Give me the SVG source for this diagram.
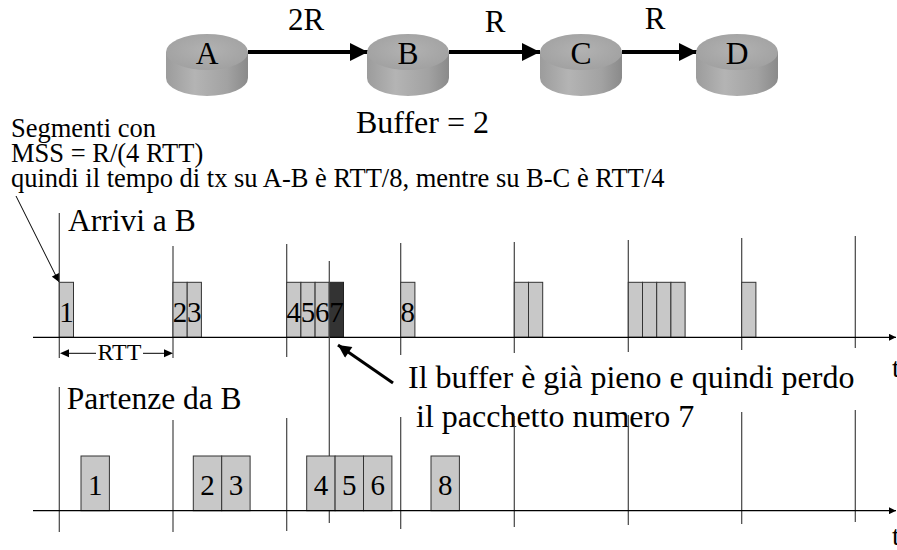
<svg xmlns="http://www.w3.org/2000/svg" xmlns:xlink="http://www.w3.org/1999/xlink" width="897" height="550" viewBox="0 0 897 550" font-family="'Liberation Serif', 'DejaVu Serif', serif">
<style>
text{font-family:'Liberation Serif','DejaVu Serif',serif;fill:#000}
.big{font-size:31.5px}
.lbl{font-size:31px}
.sm{font-size:26.5px}
.num{font-size:29px;text-anchor:middle}
.vl{stroke:#444;stroke-width:1.2}
.ax{stroke:#000;stroke-width:1.3}
.pk{fill:#c8c8c8;stroke:#333;stroke-width:1}
.pkd{fill:#333;stroke:#222;stroke-width:1}
.lnk{stroke:#000;stroke-width:4}
</style>
<defs>
<linearGradient id="side" x1="0" y1="0" x2="1" y2="0">
<stop offset="0" stop-color="#9c9c9c"/>
<stop offset="0.35" stop-color="#b4b4b4"/>
<stop offset="0.75" stop-color="#a2a2a2"/>
<stop offset="1" stop-color="#8a8a8a"/>
</linearGradient>
<radialGradient id="top" cx="0.5" cy="0.45" r="0.6">
<stop offset="0" stop-color="#b2b2b2"/>
<stop offset="1" stop-color="#a0a0a0"/>
</radialGradient>
<g id="cyl">
<path d="M-41,52 V78 A41,18 0 0 0 41,78 V52 Z" fill="url(#side)"/>
<ellipse cx="0" cy="52" rx="41" ry="18" fill="url(#top)"/>
</g>
<marker id="ah" viewBox="0 0 10 10" refX="10" refY="5" markerWidth="4.5" markerHeight="4.5" orient="auto" markerUnits="strokeWidth">
<path d="M0,0 L10,5 L0,10 Z" fill="#000"/>
</marker>
<marker id="axh" viewBox="0 0 10 10" refX="10" refY="5" markerWidth="9" markerHeight="7" orient="auto" markerUnits="userSpaceOnUse">
<path d="M0,0 L10,5 L0,10 Z" fill="#000"/>
</marker>
<marker id="sh" viewBox="0 0 10 10" refX="10" refY="5" markerWidth="9" markerHeight="8" orient="auto" markerUnits="userSpaceOnUse">
<path d="M0,0 L10,5 L0,10 Z" fill="#000"/>
</marker>
<marker id="th" viewBox="0 0 10 10" refX="10" refY="5" markerWidth="16" markerHeight="13" orient="auto" markerUnits="userSpaceOnUse">
<path d="M0,0 L10,5 L0,10 Z" fill="#000"/>
</marker>
</defs>

<g id="connectors">
<line class="lnk" x1="248" y1="52" x2="368" y2="52" marker-end="url(#ah)"/>
<line class="lnk" x1="449" y1="52" x2="540" y2="52" marker-end="url(#ah)"/>
<line class="lnk" x1="622" y1="52" x2="697" y2="52" marker-end="url(#ah)"/>
</g>

<g id="node-A"><use xlink:href="#cyl" x="207"/><text class="big" x="207" y="64" text-anchor="middle">A</text></g>
<g id="node-B"><use xlink:href="#cyl" x="408"/><text class="big" x="408" y="64" text-anchor="middle">B</text></g>
<g id="node-C"><use xlink:href="#cyl" x="581"/><text class="big" x="581" y="64" text-anchor="middle">C</text></g>
<g id="node-D"><use xlink:href="#cyl" x="737"/><text class="big" x="737" y="64" text-anchor="middle">D</text></g>

<g id="link-labels">
<text class="lbl" x="306" y="30" text-anchor="middle">2R</text>
<text class="lbl" x="495" y="32" text-anchor="middle">R</text>
<text class="lbl" x="655" y="29" text-anchor="middle">R</text>
<text class="lbl" x="356" y="133" style="font-size:32px">Buffer = 2</text>
</g>

<g id="notes">
<text class="sm" x="11" y="137">Segmenti con</text>
<text class="sm" x="11" y="162">MSS = R/(4 RTT)</text>
<text class="sm" x="11" y="187">quindi il tempo di tx su A-B è RTT/8, mentre su B-C è RTT/4</text>
<line x1="16" y1="196" x2="59" y2="282" stroke="#000" stroke-width="1" marker-end="url(#sh)"/>
</g>

<g id="arrivals">
<text class="big" x="68" y="231">Arrivi a B</text>
<line class="vl" x1="59.3" y1="213" x2="59.3" y2="358"/>
<line class="vl" x1="173" y1="246" x2="173" y2="358"/>
<line class="vl" x1="286.7" y1="244" x2="286.7" y2="357"/>
<line class="vl" x1="400.7" y1="243" x2="400.7" y2="355"/>
<line class="vl" x1="514.3" y1="242" x2="514.3" y2="353"/>
<line class="vl" x1="628.3" y1="240" x2="628.3" y2="352"/>
<line class="vl" x1="741.7" y1="238" x2="741.7" y2="350"/>
<line class="vl" x1="855.3" y1="236" x2="855.3" y2="348"/>
<rect class="pk" x="59.3" y="282.3" width="14.2" height="55"/>
<rect class="pk" x="173" y="282.3" width="14.2" height="55"/>
<rect class="pk" x="187.2" y="282.3" width="14.2" height="55"/>
<rect class="pk" x="286.7" y="282.3" width="14.2" height="55"/>
<rect class="pk" x="300.9" y="282.3" width="14.2" height="55"/>
<rect class="pk" x="315.1" y="282.3" width="14.2" height="55"/>
<rect class="pkd" x="329.3" y="282.3" width="14.2" height="55"/>
<rect class="pk" x="400.7" y="282.3" width="14.2" height="55"/>
<rect class="pk" x="514.3" y="282.3" width="14.2" height="55"/>
<rect class="pk" x="528.5" y="282.3" width="14.2" height="55"/>
<rect class="pk" x="628.3" y="282.3" width="14.2" height="55"/>
<rect class="pk" x="642.5" y="282.3" width="14.2" height="55"/>
<rect class="pk" x="656.7" y="282.3" width="14.2" height="55"/>
<rect class="pk" x="670.9" y="282.3" width="14.2" height="55"/>
<rect class="pk" x="741.7" y="282.3" width="14.2" height="55"/>
<text class="num" x="66.4" y="322">1</text>
<text class="num" x="180.1" y="322">2</text>
<text class="num" x="194.3" y="322">3</text>
<text class="num" x="293.8" y="322">4</text>
<text class="num" x="308" y="322">5</text>
<text class="num" x="322.2" y="322">6</text>
<text class="num" x="336.4" y="322">7</text>
<text class="num" x="407.8" y="322">8</text>
<line class="ax" x1="33" y1="337.3" x2="896" y2="337.3" marker-end="url(#axh)"/>
<text class="lbl" x="892" y="377" style="font-size:28px">t</text>
<line x1="66" y1="353.3" x2="96" y2="353.3" stroke="#000" stroke-width="1"/>
<path d="M69,349.3 L60,353.3 L69,357.3 Z" fill="#000"/>
<line x1="143" y1="353.3" x2="165" y2="353.3" stroke="#000" stroke-width="1"/>
<path d="M164,349.3 L173,353.3 L164,357.3 Z" fill="#000"/>
<text x="119.5" y="360" text-anchor="middle" style="font-size:24px">RTT</text>
</g>

<line id="drop-line" class="vl" x1="329.3" y1="261" x2="329.3" y2="523"/>
<line x1="393" y1="383" x2="338" y2="345" stroke="#000" stroke-width="3" marker-end="url(#th)"/>
<text class="big" x="408" y="388" style="font-size:32px">Il buffer è già pieno e quindi perdo</text>
<text class="big" x="408" y="427" style="font-size:32px" xml:space="preserve"> il pacchetto numero 7</text>

<g id="departures">
<text class="big" x="66.7" y="409">Partenze da B</text>
<line class="vl" x1="59.3" y1="387" x2="59.3" y2="532"/>
<line class="vl" x1="173" y1="420" x2="173" y2="532"/>
<line class="vl" x1="286.7" y1="418" x2="286.7" y2="531"/>
<line class="vl" x1="400.7" y1="417" x2="400.7" y2="529"/>
<line class="vl" x1="514.3" y1="416" x2="514.3" y2="527"/>
<line class="vl" x1="628.3" y1="415" x2="628.3" y2="525"/>
<line class="vl" x1="741.7" y1="412" x2="741.7" y2="524"/>
<line class="vl" x1="855.3" y1="410" x2="855.3" y2="522"/>
<rect class="pk" x="81" y="456" width="28.4" height="54.7"/>
<rect class="pk" x="193.3" y="456" width="28.4" height="54.7"/>
<rect class="pk" x="221.7" y="456" width="28.4" height="54.7"/>
<rect class="pk" x="306.7" y="456" width="28.4" height="54.7"/>
<rect class="pk" x="335.1" y="456" width="28.4" height="54.7"/>
<rect class="pk" x="363.5" y="456" width="28.4" height="54.7"/>
<rect class="pk" x="431" y="456" width="28.4" height="54.7"/>
<text class="num" x="95.2" y="495">1</text>
<text class="num" x="207.5" y="495">2</text>
<text class="num" x="235.9" y="495">3</text>
<text class="num" x="320.9" y="495">4</text>
<text class="num" x="349.3" y="495">5</text>
<text class="num" x="377.7" y="495">6</text>
<text class="num" x="445.2" y="495">8</text>
<line class="ax" x1="33" y1="510.7" x2="896" y2="510.7" marker-end="url(#axh)"/>
<text class="lbl" x="892" y="545" style="font-size:28px">t</text>
</g>
</svg>
